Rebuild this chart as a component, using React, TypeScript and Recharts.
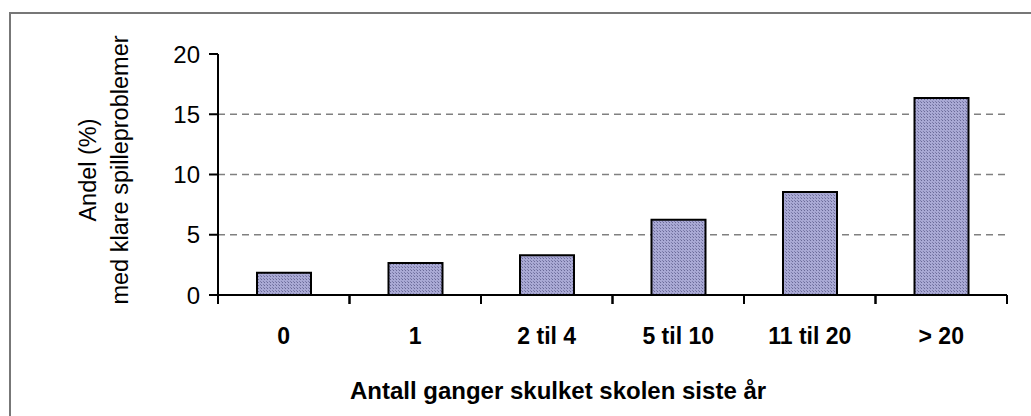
import { BarChart, Bar, XAxis, YAxis, CartesianGrid } from 'recharts';

const categories = ['0', '1', '2 til 4', '5 til 10', '11 til 20', '> 20'];
const shares = [1.85, 2.65, 3.3, 6.25, 8.55, 16.35];
const yTicks = [0, 5, 10, 15, 20];
const gridValues = [5, 10, 15];

const data = categories.map((c, i) => ({ cat: c, share: shares[i] }));

const W = 1031;
const H = 416;
const PLOT_LEFT = 218;
const PLOT_RIGHT = 1007;
const PLOT_TOP = 54;
const PLOT_BOTTOM = 295;
const Y_AXIS_W = 60;
const X_AXIS_H = 60;

const FONT = '"Liberation Sans", Arial, sans-serif';

// tick label in the band centre, tick marks on the band edges
function XTick(props: any) {
    const { x, y, payload } = props;
    const half = payload?.offset ?? (PLOT_RIGHT - PLOT_LEFT) / categories.length / 2;
    return (
        <g>
            <line x1={x - half} y1={y} x2={x - half} y2={y + 9} stroke="#000" strokeWidth={2} />
            <line x1={x + half} y1={y} x2={x + half} y2={y + 9} stroke="#000" strokeWidth={2} />
            <text x={x} y={y + 49} textAnchor="middle" fontFamily={FONT} fontWeight="bold" fontSize={23} fill="#000">
                {payload.value}
            </text>
        </g>
    );
}

export default function App() {
    return (
        <div style={{ position: 'absolute', left: 0, top: 0, width: W, height: H, overflow: 'hidden', background: '#fff' }}>
            <div style={{
                position: 'absolute', left: 9, top: 12, width: W + 20, height: H + 20,
                borderLeft: '2px solid #777', borderTop: '2px solid #777'
            }} />
            <BarChart
                width={W}
                height={H}
                data={data}
                margin={{
                    top: PLOT_TOP,
                    right: W - PLOT_RIGHT,
                    left: PLOT_LEFT - Y_AXIS_W,
                    bottom: H - PLOT_BOTTOM - X_AXIS_H
                }}
                barCategoryGap={0}
            >
                <defs>
                    <pattern id="dots" width={3} height={3} patternUnits="userSpaceOnUse">
                        <rect x={0} y={0} width={3} height={3} fill="#a9a9d4" />
                        <rect x={0} y={0} width={1} height={1} fill="#6a6a98" />
                        <rect x={2} y={2} width={1} height={1} fill="#7e7eac" />
                    </pattern>
                </defs>
                <CartesianGrid
                    vertical={false}
                    horizontalValues={gridValues}
                    stroke="#808080"
                    strokeWidth={1.5}
                    strokeDasharray="7 5"
                />
                <XAxis
                    dataKey="cat"
                    height={X_AXIS_H}
                    axisLine={{ stroke: '#000', strokeWidth: 2 }}
                    tickLine={false}
                    tickSize={0}
                    tickMargin={0}
                    tick={<XTick />}
                    interval={0}
                />
                <YAxis
                    width={Y_AXIS_W}
                    domain={[0, 20]}
                    ticks={yTicks}
                    interval={0}
                    axisLine={{ stroke: '#000', strokeWidth: 2 }}
                    tickLine={{ stroke: '#000', strokeWidth: 2 }}
                    tickSize={9}
                    tickMargin={9}
                    tick={{ fill: '#000', fontSize: 24, fontFamily: FONT }}
                />
                <Bar
                    dataKey="share"
                    barSize={54}
                    fill="url(#dots)"
                    stroke="#000"
                    strokeWidth={2}
                    isAnimationActive={false}
                />
            </BarChart>
            <div style={{
                position: 'absolute', left: 104, top: 170, width: 0, height: 0
            }}>
                <div style={{
                    position: 'absolute', left: 0, top: 0, transform: 'translate(-50%, -50%) rotate(-90deg)',
                    whiteSpace: 'nowrap', textAlign: 'center', fontFamily: FONT, fontSize: 23.5, lineHeight: '32px', color: '#000'
                }}>
                    Andel (%)<br />med klare spilleproblemer
                </div>
            </div>
            <div style={{
                position: 'absolute', left: 558, top: 391, transform: 'translate(-50%, -50%)',
                whiteSpace: 'nowrap', fontFamily: FONT, fontWeight: 'bold', fontSize: 24, color: '#000'
            }}>
                Antall ganger skulket skolen siste år
            </div>
        </div>
    );
}
